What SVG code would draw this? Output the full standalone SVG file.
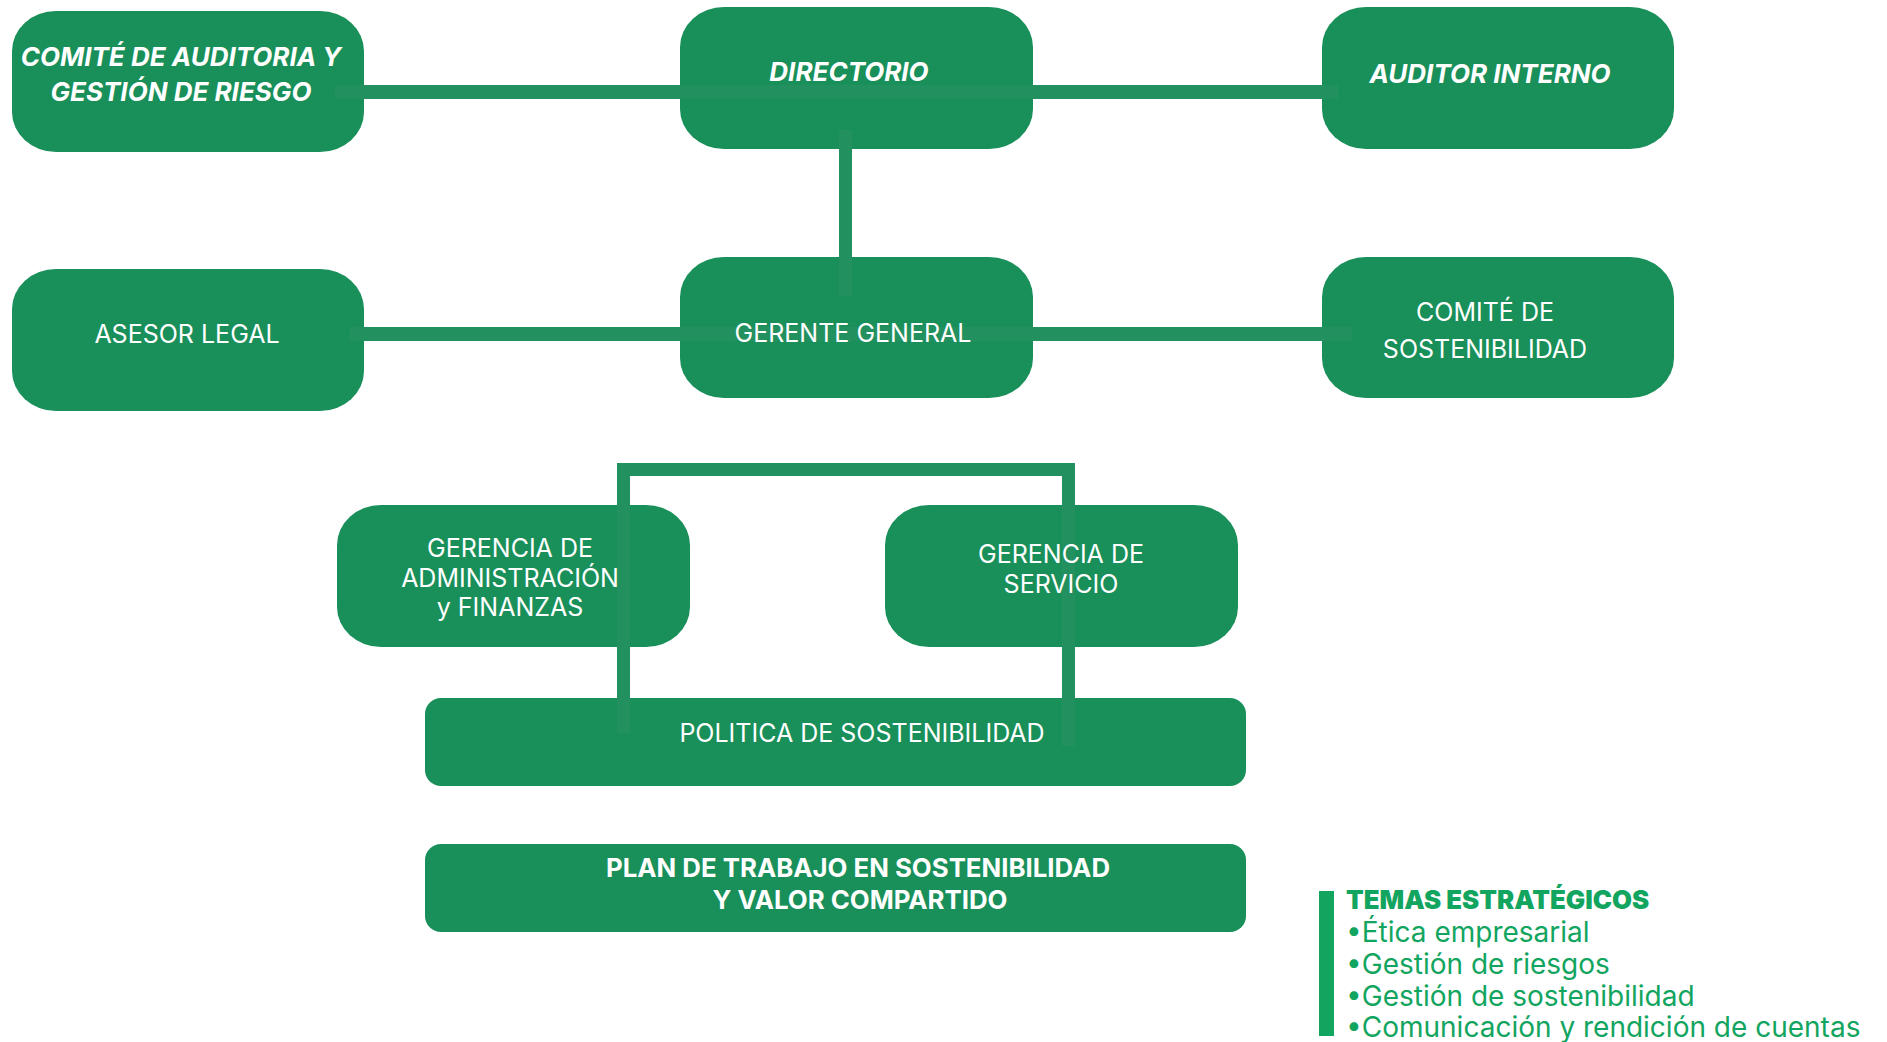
<svg xmlns="http://www.w3.org/2000/svg" width="1887" height="1042" viewBox="0 0 1887 1042">
<style>
.box{fill:#198F5A}
.ln{fill:#23915F}
.t{font-family:Inter,"Liberation Sans",sans-serif;fill:#ffffff;font-size:25px;text-anchor:middle}
.bi{font-weight:700;font-style:italic;font-size:26px}
.b{font-weight:700;font-size:25.8px}
.lg{font-family:Inter,"Liberation Sans",sans-serif;fill:#12A55F;font-size:28px}
</style>
<rect width="1887" height="1042" fill="#ffffff"/>
<g id="nodes">
<g id="comite-auditoria"><rect class="box" x="12" y="11" width="352" height="141" rx="44" ry="40"/></g>
<g id="directorio"><rect class="box" x="680" y="7" width="353" height="142" rx="44" ry="40"/></g>
<g id="auditor-interno"><rect class="box" x="1322" y="7" width="352" height="142" rx="44" ry="40"/></g>
<g id="asesor-legal"><rect class="box" x="12" y="269" width="352" height="142" rx="44" ry="40"/></g>
<g id="gerente-general"><rect class="box" x="680" y="257" width="353" height="141" rx="44" ry="40"/></g>
<g id="comite-sostenibilidad"><rect class="box" x="1322" y="257" width="352" height="141" rx="44" ry="40"/></g>
<g id="gerencia-admin"><rect class="box" x="337" y="505" width="353" height="142" rx="44" ry="40"/></g>
<g id="gerencia-servicio"><rect class="box" x="885" y="505" width="353" height="142" rx="44" ry="40"/></g>
<g id="politica"><rect class="box" x="425" y="698" width="821" height="88" rx="16" ry="16"/></g>
<g id="plan"><rect class="box" x="425" y="844" width="821" height="88" rx="16" ry="16"/></g>
</g>
<g id="connectors">
<rect class="ln" x="335" y="85" width="1003" height="14"/>
<rect class="ln" x="839" y="130" width="13" height="166"/>
<rect class="ln" x="350" y="327" width="1002" height="14"/>
<rect class="ln" x="617" y="463" width="458" height="13"/>
<rect class="ln" x="617" y="463" width="13" height="270"/>
<rect class="ln" x="1062" y="463" width="13" height="283"/>
</g>
<g id="labels">
<g id="label-comite-auditoria"><text class="t bi" x="181" y="66">COMITÉ DE AUDITORIA Y</text>
<text class="t bi" x="181" y="101">GESTIÓN DE RIESGO</text></g>
<g id="label-directorio"><text class="t bi" x="849" y="81">DIRECTORIO</text></g>
<g id="label-auditor-interno"><text class="t bi" x="1490" y="83">AUDITOR INTERNO</text></g>
<g id="label-asesor-legal"><text class="t" x="187" y="343">ASESOR LEGAL</text></g>
<g id="label-gerente-general"><text class="t" x="853" y="342">GERENTE GENERAL</text></g>
<g id="label-comite-sostenibilidad"><text class="t" x="1485" y="321">COMITÉ DE</text>
<text class="t" x="1485" y="358">SOSTENIBILIDAD</text></g>
<g id="label-gerencia-admin"><text class="t" x="510" y="557">GERENCIA DE</text>
<text class="t" x="510" y="587">ADMINISTRACIÓN</text>
<text class="t" x="510" y="616">y FINANZAS</text></g>
<g id="label-gerencia-servicio"><text class="t" x="1061" y="563">GERENCIA DE</text>
<text class="t" x="1061" y="593">SERVICIO</text></g>
<g id="label-politica"><text class="t" x="862" y="742">POLITICA DE SOSTENIBILIDAD</text></g>
<g id="label-plan"><text class="t b" x="858" y="877">PLAN DE TRABAJO EN SOSTENIBILIDAD</text>
<text class="t b" x="860" y="909">Y VALOR COMPARTIDO</text></g>
</g>
<g id="temas">
<rect x="1319" y="891" width="15" height="145" fill="#12A55F"/>
<text class="lg" x="1346" y="909" style="font-weight:900;font-size:25.8px">TEMAS ESTRATÉGICOS</text>
<text class="lg" x="1346" y="942">•Ética empresarial</text>
<text class="lg" x="1346" y="974">•Gestión de riesgos</text>
<text class="lg" x="1346" y="1006">•Gestión de sostenibilidad</text>
<text class="lg" x="1346" y="1037">•Comunicación y rendición de cuentas</text>
</g>
</svg>
